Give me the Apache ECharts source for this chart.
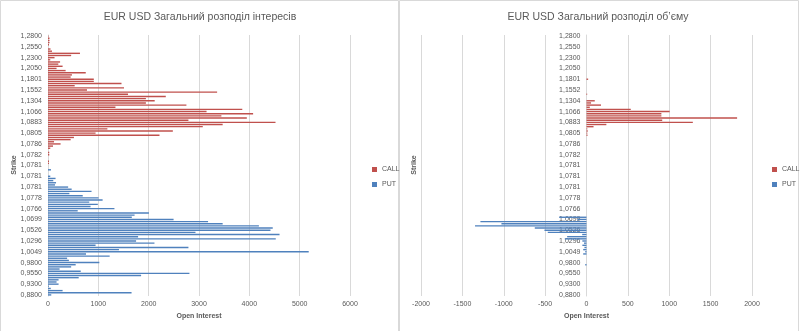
<!DOCTYPE html>
<html>
<head>
<meta charset="utf-8">
<script src="https://cdn.jsdelivr.net/npm/echarts@6/dist/echarts.min.js"></script>
<style>
  html, body { margin: 0; padding: 0; background: #ffffff; }
  #chart { width: 800px; height: 331px; }
</style>
</head>
<body>
<div id="chart"></div>
<script>
// Strike labels shown on the vertical axis (every 5th strike row)
const strikeLabels = [
  '1,2800', '1,2550', '1,2300', '1,2050', '1,1801', '1,1552', '1,1304', '1,1066',
  '1,0883', '1,0805', '1,0786', '1,0782', '1,0781', '1,0781', '1,0781', '1,0778',
  '1,0766', '1,0699', '1,0526', '1,0296', '1,0049', '0,9800', '0,9550', '0,9300', '0,8800'
];
const rowsPerLabel = 5;
const rowCount = (strikeLabels.length - 1) * rowsPerLabel + 1;

// Open interest per strike row
const callOI = [
  10, 30, 30, 30, 20, 0, 50, 80, 635, 460,
  130, 45, 240, 205, 290, 170, 350, 750, 475, 450,
  910, 910, 1460, 530, 1510, 775, 3360, 1590, 2340, 1945,
  2120, 1945, 2750, 1340, 3860, 3150, 4075, 3445, 3950, 2790,
  4520, 3470, 3075, 1180, 2480, 945, 2215, 515, 450, 120,
  250, 100, 45, 0, 25, 25, 0, 0, 20, 20,
  0, 0, 0, 0, 0, 0, 0, 0, 0, 0,
  0, 0, 0, 0, 0, 0, 0, 0, 0, 0,
  0, 0, 0, 0, 0, 0, 0, 0, 0, 0,
  0, 0, 0, 0, 0, 0, 0, 0, 0, 0,
  0, 0, 0, 0, 0, 0, 0, 0, 0, 0,
  0, 0, 0, 0, 0, 0, 0, 0, 0, 0,
  0
];
const putOI = [
  0, 0, 0, 0, 0, 0, 0, 0, 0, 0,
  0, 0, 0, 0, 0, 0, 0, 0, 0, 0,
  0, 0, 0, 0, 0, 0, 0, 0, 0, 0,
  0, 0, 0, 0, 0, 0, 0, 0, 0, 0,
  0, 0, 0, 0, 0, 0, 0, 0, 0, 0,
  0, 0, 0, 0, 0, 0, 0, 0, 0, 0,
  0, 0, 60, 0, 0, 45, 150, 105, 160, 140,
  400, 470, 865, 425, 690, 1005, 1085, 820, 990, 845,
  1320, 590, 2005, 1720, 1665, 2495, 3180, 3470, 4190, 4465,
  4420, 2930, 4600, 1790, 4525, 1750, 2115, 945, 2790, 1410,
  5180, 755, 1225, 380, 415, 1020, 550, 460, 230, 650,
  2810, 1850, 610, 210, 170, 210, 15, 55, 290, 1660,
  65
];

// Traded volume per strike row (puts drawn to the left of zero)
const callVolume = [
  0, 0, 0, 0, 0, 0, 0, 0, 0, 0,
  0, 0, 0, 0, 0, 0, 0, 0, 0, 0,
  20, 0, 0, 0, 0, 0, 0, 8, 0, 0,
  100, 55, 175, 40, 535, 1005, 905, 905, 1820, 915,
  1285, 240, 85, 10, 15, 10, 12, 0, 0, 0,
  0, 0, 0, 0, 0, 0, 0, 0, 0, 0,
  0, 0, 0, 0, 0, 0, 0, 0, 0, 0,
  0, 0, 0, 0, 0, 0, 0, 0, 0, 0,
  0, 0, 0, 0, 0, 0, 0, 0, 0, 0,
  0, 0, 0, 0, 0, 0, 0, 0, 0, 0,
  0, 0, 0, 0, 0, 0, 0, 0, 0, 0,
  0, 0, 0, 0, 0, 0, 0, 0, 0, 0,
  0
];
const putVolume = [
  0, 0, 0, 0, 0, 0, 0, 0, 0, 0,
  0, 0, 0, 0, 0, 0, 0, 0, 0, 0,
  0, 0, 0, 0, 0, 0, 0, 0, 0, 0,
  0, 0, 0, 0, 0, 0, 0, 0, 0, 0,
  0, 0, 0, 0, 0, 0, 0, 0, 0, 0,
  0, 0, 0, 0, 0, 0, 0, 0, 0, 0,
  0, 0, 0, 0, 0, 0, 0, 0, 0, 0,
  0, 0, 0, 0, 0, 0, 0, 0, 0, 0,
  0, 0, 0, 0, -330, -110, -1282, -1028, -1347, -625,
  -508, -468, -52, -234, -262, -50, -30, -50, -25, -40,
  -15, -40, 0, 0, 0, 0, -15, 0, 0, 0,
  0, 0, 0, 0, 0, 0, 0, 0, 0, 0,
  0
];

const seriesNames = ['CALL', 'PUT'];
const titles = ['EUR USD Загальний розподіл інтересів', 'EUR USD Загальний розподіл об’єму'];
const axisTitleX = 'Open Interest';
const axisTitleY = 'Strike';

// one category per strike row, labelled every fifth row
const strikeRows = [];
for (let i = 0; i < rowCount; i++) {
  strikeRows.push(i % rowsPerLabel === 0 ? strikeLabels[i / rowsPerLabel] : '');
}

const FONT = 'Liberation Sans, Arial, sans-serif';
const TEXT = '#595959';
const GRID_LINE = '#d9d9d9';
const CALL_COLOR = '#c0504d';
const PUT_COLOR = '#4f81bd';

// panel geometry
const gridTop = 35, gridBottom = 35;
const volGridLeft = 421, volGridRight = 48;
const volRange = [-2000, 2000];
const volPlotWidth = 800 - volGridLeft - volGridRight;
// shift the strike axis of the volume panel onto its zero line
const volZeroShift = volPlotWidth * (0 - volRange[0]) / (volRange[1] - volRange[0]);

function valueAxis(gridIndex, min, max, interval) {
  return {
    type: 'value', gridIndex, min, max, interval,
    axisLine: { show: false },
    axisTick: { show: false },
    splitLine: { lineStyle: { color: GRID_LINE, width: 1 } },
    axisLabel: { color: TEXT, fontSize: 7, fontFamily: FONT, margin: 5, formatter: (v) => String(v) },
    name: axisTitleX, nameLocation: 'middle', nameGap: 16,
    nameTextStyle: { color: TEXT, fontSize: 7, fontWeight: 'bold', fontFamily: FONT }
  };
}
function strikeAxis(gridIndex, offset) {
  return {
    type: 'category', gridIndex, inverse: true, data: strikeRows,
    offset: offset,
    axisLine: { onZero: false, lineStyle: { color: GRID_LINE, width: 1 } },
    axisTick: { show: false },
    splitLine: { show: false },
    axisLabel: { interval: rowsPerLabel - 1, color: TEXT, fontSize: 7, fontFamily: FONT, margin: 6 }
  };
}
// CALL and PUT never share a strike row, so both series sit on the row centre
function barSeries(name, axisIndex, data, color) {
  return {
    name, type: 'bar', xAxisIndex: axisIndex, yAxisIndex: axisIndex, data,
    barWidth: 1.4, barGap: '-100%',
    itemStyle: { color, borderWidth: 0 }, silent: true
  };
}
function legendAt(left) {
  return {
    data: seriesNames, left, top: 161, orient: 'vertical',
    icon: 'rect', itemWidth: 5, itemHeight: 5, itemGap: 8,
    textStyle: { color: TEXT, fontSize: 7, fontFamily: FONT }
  };
}
function headline(x, text) {
  return {
    type: 'text', x, y: 17,
    style: { text, fill: TEXT, font: '10.5px ' + FONT, align: 'center', verticalAlign: 'middle' }
  };
}
function sideTitle(x, y) {
  return {
    type: 'text', x, y, rotation: Math.PI / 2,
    style: { text: axisTitleY, fill: TEXT, font: 'bold 7px ' + FONT, align: 'center', verticalAlign: 'middle' }
  };
}

const chart = echarts.init(document.getElementById('chart'), null, { renderer: 'canvas' });
chart.setOption({
  animation: false,
  backgroundColor: '#ffffff',
  grid: [
    { left: 48, right: 450, top: gridTop, bottom: gridBottom },
    { left: volGridLeft, right: volGridRight, top: gridTop, bottom: gridBottom }
  ],
  xAxis: [valueAxis(0, 0, 6000, 1000), valueAxis(1, volRange[0], volRange[1], 500)],
  yAxis: [strikeAxis(0, 0), strikeAxis(1, -volZeroShift)],
  legend: [legendAt(367), legendAt(767)],
  series: [
    barSeries(seriesNames[0], 0, callOI, CALL_COLOR),
    barSeries(seriesNames[1], 0, putOI, PUT_COLOR),
    barSeries(seriesNames[0], 1, callVolume, CALL_COLOR),
    barSeries(seriesNames[1], 1, putVolume, PUT_COLOR)
  ],
  graphic: [
    { type: 'rect', shape: { x: 0.5, y: 0.5, width: 398, height: 340 }, style: { fill: 'none', stroke: GRID_LINE, lineWidth: 1 } },
    { type: 'rect', shape: { x: 399.5, y: 0.5, width: 399, height: 340 }, style: { fill: 'none', stroke: GRID_LINE, lineWidth: 1 } },
    headline(200, titles[0]),
    headline(598, titles[1]),
    sideTitle(14, 165),
    sideTitle(414, 165)
  ]
});
</script>
</body>
</html>
